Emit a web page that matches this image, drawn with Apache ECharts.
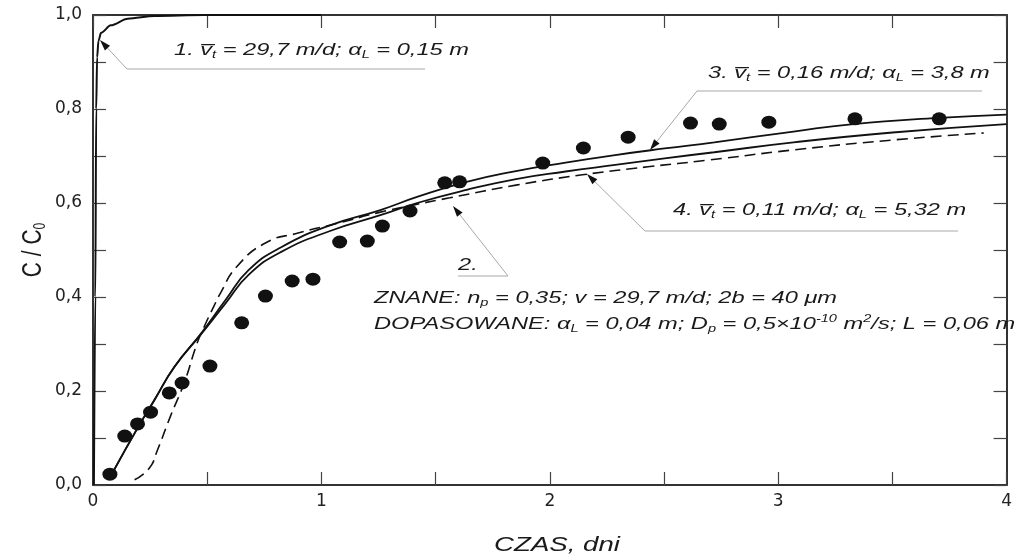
<!DOCTYPE html>
<html><head><meta charset="utf-8">
<script src="https://cdn.jsdelivr.net/npm/echarts@6/dist/echarts.min.js"></script>
<style>html,body{margin:0;padding:0;background:#fff}#c{width:1015px;height:558px}</style>
</head><body><div id="c"></div>
<script>
// measured points (time in days, C/C0)
const measuredT = [0.074,0.139,0.195,0.252,0.334,0.390,0.512,0.651,0.755,0.872,0.963,1.080,1.201,1.267,1.388,1.540,1.605,1.969,2.147,2.343,2.616,2.742,2.959,3.336,3.705];
const measuredC = [0.023,0.104,0.130,0.155,0.196,0.217,0.253,0.345,0.402,0.434,0.438,0.517,0.519,0.551,0.583,0.643,0.645,0.685,0.717,0.740,0.770,0.768,0.772,0.779,0.779];
// curve 1
const curve1T = [0.004,0.010,0.014,0.018,0.024,0.035,0.078,0.152,0.269,0.486,1.0];
const curve1C = [0.000,0.400,0.800,0.910,0.945,0.962,0.978,0.992,0.998,1.000,1.000];
// curve 3 (upper solid)
const curve3T = [0.090,0.195,0.269,0.356,0.477,0.581,0.681,0.824,1.041,1.258,1.419,1.636,1.852,2.069,2.286,2.503,2.720,3.067,3.330,3.705,4.000];
const curve3C = [0.030,0.121,0.181,0.251,0.325,0.394,0.457,0.506,0.553,0.585,0.613,0.645,0.668,0.686,0.702,0.716,0.729,0.752,0.768,0.781,0.788];
// curve 2 (lower solid)
const curve2T = [0.090,0.195,0.269,0.356,0.477,0.581,0.681,0.824,1.041,1.258,1.419,1.636,1.852,2.069,2.286,2.503,2.720,3.067,3.501,4.000];
const curve2C = [0.030,0.121,0.181,0.251,0.323,0.387,0.447,0.496,0.541,0.574,0.600,0.628,0.651,0.667,0.681,0.695,0.708,0.729,0.750,0.768];
// curve 4 (dashed)
const curve4T = [0.182,0.247,0.282,0.338,0.399,0.456,0.486,0.529,0.560,0.625,0.755,0.898,1.072,1.245,1.406,1.562,1.852,2.143,2.430,2.690,3.067,3.501,3.900];
const curve4C = [0.011,0.036,0.074,0.145,0.217,0.302,0.336,0.380,0.410,0.462,0.515,0.536,0.557,0.579,0.596,0.611,0.638,0.660,0.677,0.691,0.713,0.734,0.749];

const zip = (a,b) => a.map((v,i)=>[v,b[i]]);
const FONT = '"Liberation Sans", Arial, sans-serif';
const SX = 1.39;
const chart = echarts.init(document.getElementById('c'), null, {renderer:'canvas'});

const rich = {
  t:{fontSize:17, lineHeight:21, fontStyle:'italic', fontFamily:FONT, fill:'#1a1a1a', color:'#1a1a1a'},
  s:{fontSize:10.5, lineHeight:10, verticalAlign:'bottom', fontStyle:'italic', fontFamily:FONT, fill:'#1a1a1a', color:'#1a1a1a'},
  p:{fontSize:10.5, lineHeight:10, verticalAlign:'top', fontStyle:'italic', fontFamily:FONT, fill:'#1a1a1a', color:'#1a1a1a'}
};
function txt(x, y, text){
  return {type:'text', x:x, y:y, scaleX:SX, z:100, style:{text:text, rich:rich, textVerticalAlign:'middle', textAlign:'left', font:'italic 17px '+FONT, fill:'#1a1a1a'}};
}
function leader(pts){
  const n = pts.length, tip = pts[n-1], prev = pts[n-2];
  const dx = tip[0]-prev[0], dy = tip[1]-prev[1], L = Math.hypot(dx,dy);
  const ux = dx/L, uy = dy/L, len = 11, w = 3.5;
  const bx = tip[0]-ux*len, by = tip[1]-uy*len;
  return [
    {type:'polyline', z:90, shape:{points:pts.slice(0,n-1).concat([[bx,by]])}, style:{stroke:'#a8a8a8', lineWidth:1, fill:null}},
    {type:'polygon', z:91, shape:{points:[tip,[bx-uy*w,by+ux*w],[bx+uy*w,by-ux*w]]}, style:{fill:'#111'}}
  ];
}
const OV = 'v\u0305';
const graphics = [].concat(
  leader([[425,69],[127,69],[100,40]]),
  leader([[982,91],[697,91],[650,150]]),
  leader([[958,231],[645,231],[587,174]]),
  leader([[458,276],[508,276],[453,206]]),
  [
    txt(174,50,'{t|1. '+OV+'}{s|t}{t| = 29,7 m/d; α}{s|L}{t| = 0,15 m}'),
    txt(708,73,'{t|3. '+OV+'}{s|t}{t| = 0,16 m/d; α}{s|L}{t| = 3,8 m}'),
    txt(673,210,'{t|4. '+OV+'}{s|t}{t| = 0,11 m/d; α}{s|L}{t| = 5,32 m}'),
    txt(458,265,'{t|2.}'),
    txt(374,298,'{t|ZNANE: n}{s|p}{t| = 0,35; v = 29,7 m/d; 2b = 40 μm}'),
    txt(374,324,'{t|DOPASOWANE: α}{s|L}{t| = 0,04 m; D}{s|p}{t| = 0,5×10}{p|-10}{t| m}{p|2}{t|/s; L = 0,06 m}'),
    {type:'text', x:557, y:545, scaleX:1.38, style:{text:'CZAS, dni', font:'italic 20px '+FONT, fill:'#1a1a1a', textAlign:'center', textVerticalAlign:'middle'}},
    {type:'text', x:33, y:250, rotation:Math.PI/2, scaleY:1.3, style:{text:'{a|C / C}{b|0}', textAlign:'center', textVerticalAlign:'middle', fill:'#1a1a1a',
      rich:{a:{fontSize:21, lineHeight:24, fontFamily:FONT, fill:'#1a1a1a'}, b:{fontSize:12, lineHeight:12, verticalAlign:'bottom', fontFamily:FONT, fill:'#1a1a1a'}}}}
  ]
);

const axisLine = {show:true, onZero:false, lineStyle:{color:'#333', width:2}};
const axisTick = {show:true, inside:true, length:13, lineStyle:{color:'#444', width:1.2}};
const lineCommon = {type:'line', showSymbol:false, symbol:'none', smooth:0.5, z:5, silent:true};
const LBL = {fontSize:17, fontFamily:'"DejaVu Sans", sans-serif', color:'#222'};

chart.setOption({
  animation:false,
  backgroundColor:'#fff',
  grid:{left:93, right:0, top:15, bottom:73},
  xAxis:[
    {type:'value', min:0, max:4, interval:0.5, axisLine:axisLine, axisTick:axisTick, splitLine:{show:false},
     axisLabel:Object.assign({margin:8, formatter:v=> Number.isInteger(v) ? String(v) : ''}, LBL)},
    {type:'value', position:'top', min:0, max:4, interval:0.5, axisLine:axisLine, axisTick:axisTick, splitLine:{show:false}, axisLabel:{show:false}}
  ],
  yAxis:[
    {type:'value', min:0, max:1, interval:0.1, axisLine:axisLine, axisTick:axisTick, splitLine:{show:false},
     axisLabel:Object.assign({margin:11, formatter:v=> (Math.round(v*10)%2===0) ? v.toFixed(1).replace('.',',') : ''}, LBL)},
    {type:'value', position:'right', min:0, max:1, interval:0.1, axisLine:axisLine, axisTick:axisTick, splitLine:{show:false}, axisLabel:{show:false}}
  ],
  series:[
    Object.assign({}, lineCommon, {name:'1', data:zip(curve1T,curve1C), smooth:0.3, smoothMonotone:'x', lineStyle:{color:'#111', width:2}}),
    Object.assign({}, lineCommon, {name:'2', data:zip(curve2T,curve2C), lineStyle:{color:'#111', width:1.8}}),
    Object.assign({}, lineCommon, {name:'3', data:zip(curve3T,curve3C), lineStyle:{color:'#111', width:1.8}}),
    Object.assign({}, lineCommon, {name:'4', data:zip(curve4T,curve4C), lineStyle:{color:'#111', width:1.6, type:[11,6]}}),
    {type:'scatter', name:'pomiary', data:zip(measuredT,measuredC), symbol:'circle', symbolSize:[15,13], itemStyle:{color:'#111', opacity:1}, z:10, silent:true}
  ],
  graphic:graphics
});
</script></body></html>
